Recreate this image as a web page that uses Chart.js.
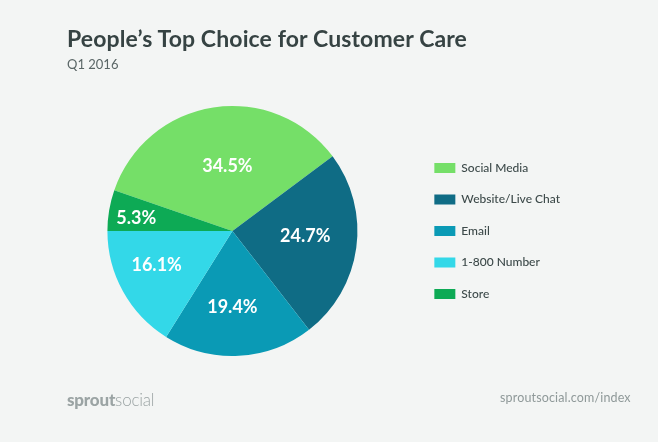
<!DOCTYPE html>
<html><head><meta charset="utf-8">
<script src="https://cdn.jsdelivr.net/npm/chart.js@4"></script>
<style>
html,body{margin:0;padding:0;background:#f3f5f4;width:658px;height:442px;overflow:hidden}
#wrap{position:relative;width:658px;height:442px;font-family:Lato,sans-serif}
canvas{position:absolute;left:0;top:0}
.t{position:absolute;white-space:nowrap;line-height:1}
</style></head><body>
<div id="wrap">
<canvas id="c" width="658" height="442"></canvas>
<div class="t" style="left:67px;top:27px;font-size:23px;font-weight:700;color:#364343;letter-spacing:.12px">People’s Top Choice for Customer Care</div>
<div class="t" style="left:67px;top:58px;font-size:13px;color:#5a6666">Q1 2016</div>
<div class="t" style="left:67px;top:391px;font-size:17px;color:#9ba4a4;letter-spacing:-.2px"><b style="font-weight:900">sprout</b><span style="font-weight:300">social</span></div>
<div class="t" style="left:500px;top:392px;font-size:12.5px;color:#8f9999;letter-spacing:.15px">sproutsocial.com/index</div>
</div>
<script>
const categories = ["Social Media","Website/Live Chat","Email","1-800 Number","Store"];
const shares = [34.5,24.7,19.4,16.1,5.3];
const sliceColors = ["#75df68","#0f6c85","#0a9ab5","#33d8e8","#0daa55"];
const labelRadius = [65,73,76,83,97];
const labelTurn = [4.4,-3.8,2.9,4.9,-1.8];

const sliceLabels = {
  id:"sliceLabels",
  afterDatasetsDraw(chart){
    const {ctx} = chart;
    ctx.save();
    ctx.font = "700 18px Lato, sans-serif";
    ctx.fillStyle = "#ffffff";
    ctx.textAlign = "center";
    ctx.textBaseline = "middle";
    chart.getDatasetMeta(0).data.forEach((arc,i)=>{
      const mid = (arc.startAngle+arc.endAngle)/2 + labelTurn[i]*Math.PI/180;
      ctx.fillText(shares[i].toFixed(1)+"%", arc.x+Math.cos(mid)*labelRadius[i], arc.y+Math.sin(mid)*labelRadius[i]);
    });
    ctx.restore();
  }
};

new Chart(document.getElementById("c"),{
  type:"pie",
  data:{labels:categories,datasets:[{data:shares,backgroundColor:sliceColors,borderWidth:0}]},
  options:{
    responsive:false,animation:false,
    rotation:-70.92,
    layout:{padding:{left:50,right:88,top:106,bottom:86}},
    plugins:{
      tooltip:{enabled:false},
      legend:{
        position:"right",align:"center",
        labels:{boxWidth:21,boxHeight:10,padding:19.5,color:"#3d4a4a",font:{family:"Lato, sans-serif",size:12,weight:"500"}}
      }
    }
  },
  plugins:[sliceLabels]
});
</script>
</body></html>
